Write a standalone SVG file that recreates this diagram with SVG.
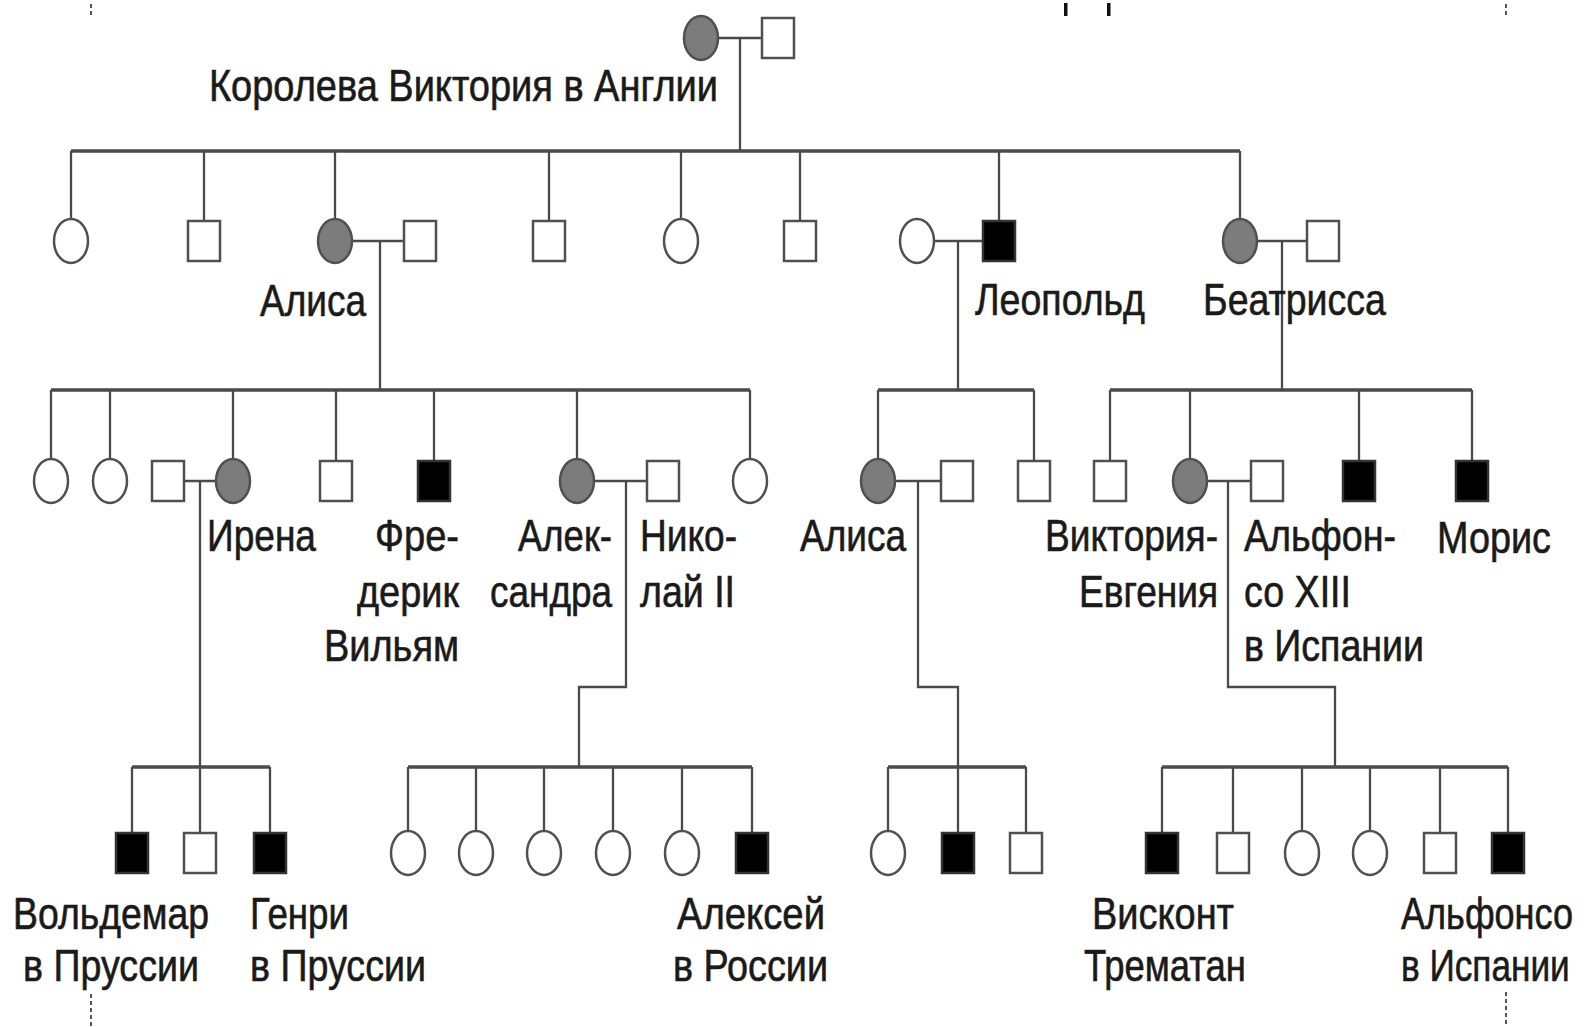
<svg xmlns="http://www.w3.org/2000/svg" xmlns:xlink="http://www.w3.org/1999/xlink" width="1588" height="1027" viewBox="0 0 1588 1027">
  <style>
    .bar { fill: none; stroke: #4a4a4a; stroke-width: 3.4; }
    .ln { fill: none; stroke: #4a4a4a; stroke-width: 2.3; }
    .n { fill: #ffffff; stroke: #505050; stroke-width: 2.5; }
    .c { fill: #7c7c7c; stroke: #505050; stroke-width: 2.5; }
    .a { fill: #000000; stroke: #333333; stroke-width: 2.5; }
    .mark { fill: none; stroke: #555555; stroke-width: 2; stroke-dasharray: 4 3; }
    text { font-family: "Liberation Sans", Arial, Helvetica, sans-serif; font-size: 44px; fill: #1a1a1a; stroke: #1a1a1a; stroke-width: 0.6; }
  </style>
  <defs>
    <rect id="sq" x="-16" y="-20" width="32" height="40"/>
    <ellipse id="ci" cx="0" cy="0" rx="17" ry="22"/>
  </defs>

  <rect width="1588" height="1027" fill="#ffffff"/>

  <!-- page edge marks -->
  <g id="marks">
    <path class="mark" d="M91 4 V18 M91 994 V1027 M1506 4 V18 M1506 992 V1027"/>
    <rect x="1064" y="3" width="3.5" height="13" fill="#111"/>
    <rect x="1107" y="3" width="3.5" height="13" fill="#111"/>
  </g>

  <!-- connectors: marriage lines, sibship bars and descent lines -->
  <g id="connectors">
    <path class="bar" d="M71 151 H1240 M51 390 H750 M878 390 H1034 M1110 390 H1472 M132 767 H270 M408 767 H752 M888 767 H1026 M1162 767 H1508"/>
    <path class="ln" d="M718 38 H762 M352 241 H404 M934 241 H983 M1257 241 H1307 M184 481 H216 M594 481 H647 M895 481 H941 M1207 481 H1251"/>
    <path class="ln" d="M740 38 V151 M380 241 V390 M958 241 V390 M1282 241 V390 M200 481 V833 M626 481 V687 H579 V767 M918 481 V687 H958 V767 M1228 481 V687 H1335 V767"/>
    <path class="ln" d="M71 151 V219 M204 151 V221 M335 151 V219 M549 151 V221 M681 151 V219 M800 151 V221 M999 151 V221 M1240 151 V219"/>
    <path class="ln" d="M51 390 V459 M110 390 V459 M233 390 V459 M336 390 V461 M434 390 V461 M577 390 V459 M750 390 V459 M878 390 V459 M1034 390 V461 M1110 390 V461 M1190 390 V459 M1359 390 V461 M1472 390 V461"/>
    <path class="ln" d="M132 767 V833 M270 767 V833 M408 767 V831 M476 767 V831 M544 767 V831 M613 767 V831 M682 767 V831 M752 767 V833 M888 767 V831 M958 767 V833 M1026 767 V833 M1162 767 V833 M1233 767 V833 M1302 767 V831 M1370 767 V831 M1440 767 V833 M1508 767 V833"/>
  </g>

  <!-- generation I -->
  <g id="victoria">
    <use href="#ci" x="701" y="38" class="c"/>
    <text x="209" y="101" textLength="509" lengthAdjust="spacingAndGlyphs">Королева Виктория в Англии</text>
  </g>
  <g id="albert"><use href="#sq" x="778" y="38" class="n"/></g>

  <!-- generation II -->
  <g id="g2-1"><use href="#ci" x="71" y="241" class="n"/></g>
  <g id="g2-2"><use href="#sq" x="204" y="241" class="n"/></g>
  <g id="alice">
    <use href="#ci" x="335" y="241" class="c"/>
    <text x="260" y="316" textLength="106" lengthAdjust="spacingAndGlyphs">Алиса</text>
  </g>
  <g id="alice-husband"><use href="#sq" x="420" y="241" class="n"/></g>
  <g id="g2-4"><use href="#sq" x="549" y="241" class="n"/></g>
  <g id="g2-5"><use href="#ci" x="681" y="241" class="n"/></g>
  <g id="g2-6"><use href="#sq" x="800" y="241" class="n"/></g>
  <g id="leopold-wife"><use href="#ci" x="917" y="241" class="n"/></g>
  <g id="leopold">
    <use href="#sq" x="999" y="241" class="a"/>
    <text x="975" y="315" textLength="170" lengthAdjust="spacingAndGlyphs">Леопольд</text>
  </g>
  <g id="beatrice">
    <use href="#ci" x="1240" y="241" class="c"/>
    <text x="1203" y="315" textLength="183" lengthAdjust="spacingAndGlyphs">Беатрисса</text>
  </g>
  <g id="beatrice-husband"><use href="#sq" x="1323" y="241" class="n"/></g>

  <!-- generation III -->
  <g id="g3-1"><use href="#ci" x="51" y="481" class="n"/></g>
  <g id="g3-2"><use href="#ci" x="110" y="481" class="n"/></g>
  <g id="irene-husband"><use href="#sq" x="168" y="481" class="n"/></g>
  <g id="irene">
    <use href="#ci" x="233" y="481" class="c"/>
    <text x="207" y="551" textLength="109" lengthAdjust="spacingAndGlyphs">Ирена</text>
  </g>
  <g id="g3-5"><use href="#sq" x="336" y="481" class="n"/></g>
  <g id="frederick">
    <use href="#sq" x="434" y="481" class="a"/>
    <text x="375" y="551" textLength="84" lengthAdjust="spacingAndGlyphs">Фре-</text>
    <text x="357" y="607" textLength="102" lengthAdjust="spacingAndGlyphs">дерик</text>
    <text x="324" y="661" textLength="135" lengthAdjust="spacingAndGlyphs">Вильям</text>
  </g>
  <g id="alexandra">
    <use href="#ci" x="577" y="481" class="c"/>
    <text x="518" y="551" textLength="94" lengthAdjust="spacingAndGlyphs">Алек-</text>
    <text x="490" y="607" textLength="122" lengthAdjust="spacingAndGlyphs">сандра</text>
  </g>
  <g id="nicholas">
    <use href="#sq" x="663" y="481" class="n"/>
    <text x="640" y="551" textLength="97" lengthAdjust="spacingAndGlyphs">Нико-</text>
    <text x="640" y="607" textLength="95" lengthAdjust="spacingAndGlyphs">лай II</text>
  </g>
  <g id="g3-9"><use href="#ci" x="750" y="481" class="n"/></g>
  <g id="alice-2">
    <use href="#ci" x="878" y="481" class="c"/>
    <text x="800" y="551" textLength="106" lengthAdjust="spacingAndGlyphs">Алиса</text>
  </g>
  <g id="alice-2-husband"><use href="#sq" x="957" y="481" class="n"/></g>
  <g id="g3-12"><use href="#sq" x="1034" y="481" class="n"/></g>
  <g id="g3-13"><use href="#sq" x="1110" y="481" class="n"/></g>
  <g id="victoria-eugenie">
    <use href="#ci" x="1190" y="481" class="c"/>
    <text x="1045" y="551" textLength="173" lengthAdjust="spacingAndGlyphs">Виктория-</text>
    <text x="1079" y="607" textLength="139" lengthAdjust="spacingAndGlyphs">Евгения</text>
  </g>
  <g id="alfonso-xiii">
    <use href="#sq" x="1267" y="481" class="n"/>
    <text x="1244" y="551" textLength="152" lengthAdjust="spacingAndGlyphs">Альфон-</text>
    <text x="1244" y="607" textLength="107" lengthAdjust="spacingAndGlyphs">со XIII</text>
    <text x="1244" y="661" textLength="180" lengthAdjust="spacingAndGlyphs">в Испании</text>
  </g>
  <g id="g3-16"><use href="#sq" x="1359" y="481" class="a"/></g>
  <g id="maurice">
    <use href="#sq" x="1472" y="481" class="a"/>
    <text x="1437" y="553" textLength="114" lengthAdjust="spacingAndGlyphs">Морис</text>
  </g>

  <!-- generation IV -->
  <g id="waldemar">
    <use href="#sq" x="132" y="853" class="a"/>
    <text x="13" y="929" textLength="196" lengthAdjust="spacingAndGlyphs">Вольдемар</text>
    <text x="23" y="981" textLength="176" lengthAdjust="spacingAndGlyphs">в Пруссии</text>
  </g>
  <g id="g4-2"><use href="#sq" x="200" y="853" class="n"/></g>
  <g id="henry">
    <use href="#sq" x="270" y="853" class="a"/>
    <text x="250" y="929" textLength="99" lengthAdjust="spacingAndGlyphs">Генри</text>
    <text x="250" y="981" textLength="176" lengthAdjust="spacingAndGlyphs">в Пруссии</text>
  </g>
  <g id="g4-4"><use href="#ci" x="408" y="853" class="n"/></g>
  <g id="g4-5"><use href="#ci" x="476" y="853" class="n"/></g>
  <g id="g4-6"><use href="#ci" x="544" y="853" class="n"/></g>
  <g id="g4-7"><use href="#ci" x="613" y="853" class="n"/></g>
  <g id="g4-8"><use href="#ci" x="682" y="853" class="n"/></g>
  <g id="alexei">
    <use href="#sq" x="752" y="853" class="a"/>
    <text x="677" y="929" textLength="148" lengthAdjust="spacingAndGlyphs">Алексей</text>
    <text x="673" y="981" textLength="155" lengthAdjust="spacingAndGlyphs">в России</text>
  </g>
  <g id="g4-10"><use href="#ci" x="888" y="853" class="n"/></g>
  <g id="g4-11"><use href="#sq" x="958" y="853" class="a"/></g>
  <g id="g4-12"><use href="#sq" x="1026" y="853" class="n"/></g>
  <g id="viscount">
    <use href="#sq" x="1162" y="853" class="a"/>
    <text x="1092" y="929" textLength="142" lengthAdjust="spacingAndGlyphs">Висконт</text>
    <text x="1084" y="981" textLength="162" lengthAdjust="spacingAndGlyphs">Трематан</text>
  </g>
  <g id="g4-14"><use href="#sq" x="1233" y="853" class="n"/></g>
  <g id="g4-15"><use href="#ci" x="1302" y="853" class="n"/></g>
  <g id="g4-16"><use href="#ci" x="1370" y="853" class="n"/></g>
  <g id="g4-17"><use href="#sq" x="1440" y="853" class="n"/></g>
  <g id="alfonso">
    <use href="#sq" x="1508" y="853" class="a"/>
    <text transform="translate(1401 929) scale(0.82 1)">Альфонсо</text>
    <text transform="translate(1401 981) scale(0.8 1)">в Испании</text>
  </g>
</svg>
